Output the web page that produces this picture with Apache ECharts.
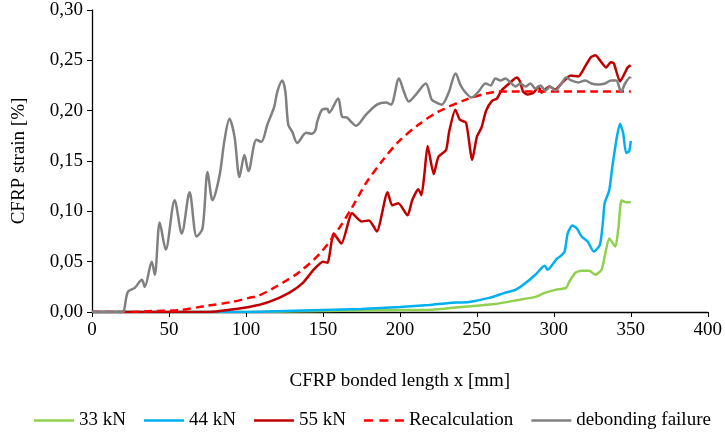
<!DOCTYPE html>
<html>
<head>
<meta charset="utf-8">
<script src="https://cdn.jsdelivr.net/npm/echarts@6/dist/echarts.min.js"></script>
<style>html,body{margin:0;padding:0;background:#fff;}#c{width:725px;height:434px;}</style>
</head>
<body>
<div id="c"></div>
<script>
// x positions (mm) and strain values (%)
const x33 = [0,100,150,200,219,240,262,277,288,294,301,308,310,314,318,323,327,331,333,336,340,342,344,347,350];
const y33 = [0,0,0.001,0.002,0.002,0.005,0.008,0.012,0.015,0.019,0.022,0.024,0.030,0.039,0.041,0.041,0.037,0.042,0.055,0.073,0.065,0.084,0.111,0.109,0.109];

const x44 = [0,100,125,150,175,200,219,232,245,258,268,275,281,288,294,296,302,304,307,309,312,315,318,322,326,330,332,333,336,338,341,343,345,347,349,350];
const y44 = [0,0,0.001,0.002,0.003,0.005,0.007,0.009,0.010,0.014,0.019,0.022,0.028,0.037,0.046,0.042,0.053,0.055,0.060,0.078,0.086,0.083,0.075,0.070,0.060,0.067,0.091,0.108,0.121,0.144,0.174,0.187,0.178,0.158,0.160,0.170];

const x55 = [0,75,83,102,115,128,137,144,150,153,157,162,169,175,180,185,192,195,199,205,208,212,214,216,218,222,225,230,232,236,239,243,247,250,253,256,260,263,266,271,276,278,280,283,287,290,292,297,301,305,311,316,320,324,327,330,334,337,339,343,346,348,350];
const y55 = [0,0,0.001,0.005,0.010,0.019,0.029,0.042,0.050,0.049,0.078,0.068,0.098,0.090,0.091,0.080,0.119,0.106,0.108,0.096,0.111,0.122,0.116,0.138,0.165,0.137,0.154,0.161,0.179,0.201,0.191,0.188,0.151,0.174,0.183,0.200,0.210,0.212,0.220,0.227,0.233,0.229,0.219,0.216,0.218,0.224,0.218,0.224,0.221,0.227,0.235,0.234,0.243,0.253,0.255,0.250,0.243,0.248,0.247,0.229,0.237,0.243,0.245];

const xRe = [0,25,40,57,74,91,102,108,117,126,135,148,160,169,178,189,199,212,225,243,256,264,350];
const yRe = [0,0,0.001,0.002,0.006,0.010,0.014,0.016,0.023,0.031,0.040,0.058,0.082,0.104,0.128,0.151,0.169,0.186,0.199,0.211,0.217,0.219,0.219];

const xDb = [0,20,21,23.3,27.8,32.4,34.3,38.8,40.8,44.0,47.9,53.7,58.3,63.4,68.0,71.8,75.1,78.3,82.8,86.1,89.3,92.6,95.8,99.0,101.6,106.8,110.0,113.9,118.4,120.4,123.6,125.6,127.5,130.1,133.3,139.2,142.4,145.0,146.3,149.5,152.8,154.0,159.9,162.5,165.7,168.3,171.5,178.0,185.1,190.9,194.2,199.4,202.6,205.8,210.4,216.8,220.7,223.9,227.2,231.7,236.2,239.5,242.7,246.6,251.1,255.7,258.9,262.1,265.4,268.6,271.8,275.1,278.3,281.6,284.8,288.0,291.3,294.5,297.7,301.0,304.9,308.1,311.3,315.9,320.4,324.3,328.8,333.3,337.2,340.5,343.7,346.3,349.5,350];
const yDb = [0,0,0.003,0.020,0.024,0.032,0.025,0.050,0.037,0.089,0.062,0.111,0.078,0.119,0.075,0.083,0.139,0.111,0.135,0.171,0.192,0.174,0.134,0.156,0.140,0.171,0.169,0.186,0.204,0.219,0.230,0.219,0.186,0.179,0.168,0.178,0.177,0.180,0.189,0.201,0.202,0.198,0.212,0.194,0.193,0.189,0.185,0.196,0.206,0.208,0.206,0.232,0.219,0.209,0.216,0.227,0.211,0.208,0.206,0.218,0.237,0.225,0.218,0.213,0.219,0.227,0.225,0.232,0.230,0.232,0.228,0.224,0.227,0.224,0.227,0.222,0.225,0.220,0.224,0.220,0.227,0.233,0.230,0.228,0.230,0.227,0.226,0.227,0.230,0.230,0.219,0.227,0.233,0.232];

const seriesNames = ['33 kN','44 kN','55 kN','Recalculation','debonding failure'];

function zip(xs, ys){ return xs.map((x,i)=>[x, ys[i]]); }

const font = 'Liberation Serif, Times New Roman, serif';
const fs = 19;
const chart = echarts.init(document.getElementById('c'), null, {renderer:'canvas'});

function lineSeries(name, xs, ys, color, type, smooth){
  return {
    name: name, type: 'line', data: zip(xs, ys), symbol: 'none', smooth: smooth,
    lineStyle: {color: color, width: 2.5, type: type},
    itemStyle: {color: color},
    animation: false
  };
}

const solidIcon = 'path://M0,0h40v1h-40z';
const dashIcon = 'path://M0,0h9v1h-9z M15.5,0h9v1h-9z M31,0h9v1h-9z';

chart.setOption({
  backgroundColor: '#fff',
  textStyle: {fontFamily: font},
  grid: {left: 92, right: 15, top: 10, bottom: 122, containLabel: false},
  xAxis: {
    type: 'value', min: 0, max: 400, interval: 50,
    name: 'CFRP bonded length x [mm]', nameLocation: 'middle', nameGap: 60,
    nameTextStyle: {fontFamily: font, fontSize: fs, color: '#000'},
    axisLine: {show: true, lineStyle: {color: '#000', width: 1.3}},
    axisTick: {show: true, inside: false, length: 5, lineStyle: {color: '#000'}},
    axisLabel: {fontFamily: font, fontSize: fs, color: '#000', margin: 9},
    splitLine: {show: false}
  },
  yAxis: {
    type: 'value', min: 0, max: 0.30, interval: 0.05,
    name: 'CFRP strain [%]', nameLocation: 'middle', nameGap: 63,
    nameTextStyle: {fontFamily: font, fontSize: fs, color: '#000'},
    axisLine: {show: true, lineStyle: {color: '#000', width: 1.3}},
    axisTick: {show: true, inside: false, length: 5, lineStyle: {color: '#000'}},
    axisLabel: {fontFamily: font, fontSize: fs, color: '#000', margin: 9,
      formatter: v => v.toFixed(2).replace('.', ',')},
    splitLine: {show: false}
  },
  legend: {
    data: seriesNames.map((n, i) => ({name: n, icon: i === 3 ? dashIcon : solidIcon})),
    bottom: -1, left: 29, itemWidth: 40, itemHeight: 2.5, itemGap: 18,
    symbolKeepAspect: false,
    itemStyle: {borderWidth: 0},
    lineStyle: {width: 0},
    textStyle: {fontFamily: font, fontSize: fs, color: '#000'}
  },
  series: [
    lineSeries(seriesNames[0], x33, y33, '#92D050', 'solid', 0.2),
    lineSeries(seriesNames[1], x44, y44, '#00B0F0', 'solid', 0.2),
    lineSeries(seriesNames[2], x55, y55, '#C00000', 'solid', 0.2),
    lineSeries(seriesNames[3], xRe, yRe, '#FF0000', [8,5], 0.3),
    lineSeries(seriesNames[4], xDb, yDb, '#808080', 'solid', 0.3)
  ]
});
</script>
</body>
</html>
